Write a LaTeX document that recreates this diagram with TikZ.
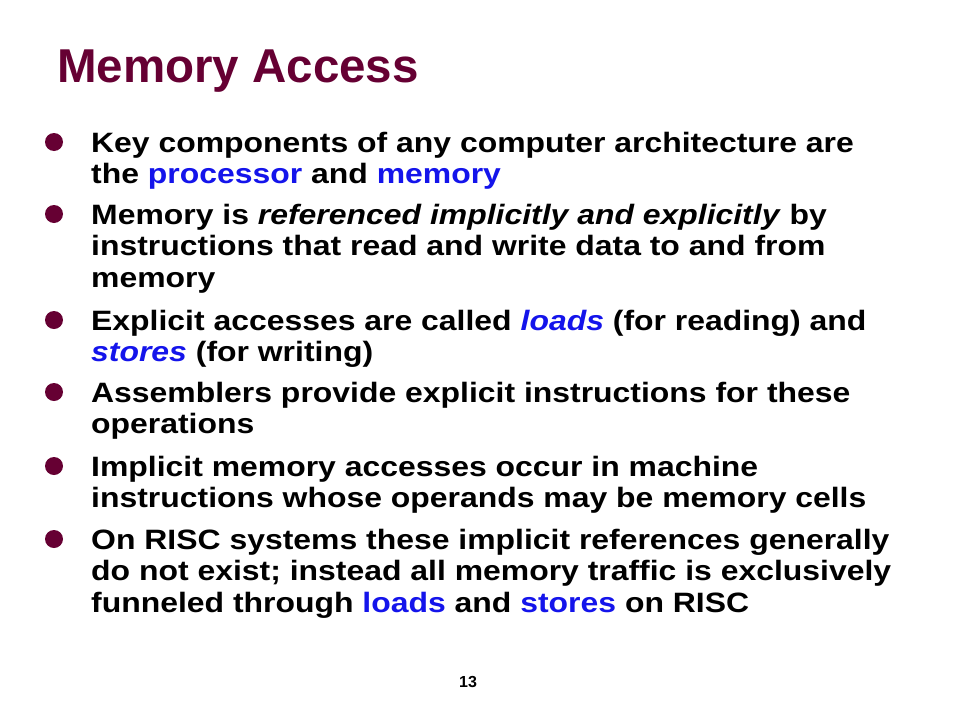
\documentclass[tikz,border=0pt]{standalone}
\usepackage{graphicx}
\usepackage{fontspec}
\setmainfont{Liberation Sans}
\definecolor{titlecol}{RGB}{102,0,51}
\definecolor{hlblue}{RGB}{20,20,235}
\newcommand{\hb}[1]{\textcolor{hlblue}{#1}}
\newcommand{\hi}[1]{\textcolor{hlblue}{\itshape #1}}
\newcommand{\wl}[1]{\scalebox{1.14}[1]{#1}}
\begin{document}
\begin{tikzpicture}[x=1pt,y=-1pt,
  txt/.style={anchor=base west,inner sep=0pt,font=\fontsize{28}{31.5}\selectfont\bfseries,text=black},
  bul/.style={circle,fill=titlecol,inner sep=0pt,minimum size=18pt}]
\useasboundingbox[fill=white] (0,0) rectangle (960,720);
\node[anchor=base west,inner sep=0pt,font=\fontsize{47.5}{50}\selectfont\bfseries,text=titlecol] (title) at (57,82) {Memory Access};
% bullet 1
\node[bul] (b1) at (54,142) {};
\node[txt] (t1a) at (91,152) {\wl{Key components of any computer architecture are}};
\node[txt] (t1b) at (91,183.5) {\wl{the \hb{processor} and \hb{memory}}};
% bullet 2
\node[bul] (b2) at (54,214) {};
\node[txt] (t2a) at (91,224) {\wl{Memory is \textit{referenced implicitly and explicitly} by}};
\node[txt] (t2b) at (91,255.5) {\wl{instructions that read and write data to and from}};
\node[txt] (t2c) at (91,287) {\wl{memory}};
% bullet 3
\node[bul] (b3) at (54,320) {};
\node[txt] (t3a) at (91,330) {\wl{Explicit accesses are called \hi{loads} (for reading) and}};
\node[txt] (t3b) at (91,361.5) {\wl{\hi{stores} (for writing)}};
% bullet 4
\node[bul] (b4) at (54,392) {};
\node[txt] (t4a) at (91,402) {\wl{Assemblers provide explicit instructions for these}};
\node[txt] (t4b) at (91,433.5) {\wl{operations}};
% bullet 5
\node[bul] (b5) at (54,466) {};
\node[txt] (t5a) at (91,476) {\wl{Implicit memory accesses occur in machine}};
\node[txt] (t5b) at (91,507.5) {\wl{instructions whose operands may be memory cells}};
% bullet 6
\node[bul] (b6) at (54,539) {};
\node[txt] (t6a) at (91,549) {\wl{On RISC systems these implicit references generally}};
\node[txt] (t6b) at (91,580.5) {\wl{do not exist; instead all memory traffic is exclusively}};
\node[txt] (t6c) at (91,612) {\wl{funneled through \hb{loads} and \hb{stores} on RISC}};
% page number
\node[anchor=base,inner sep=0pt,font=\fontsize{16}{18}\selectfont\bfseries] (pg) at (468,687) {13};
\end{tikzpicture}
\end{document}
